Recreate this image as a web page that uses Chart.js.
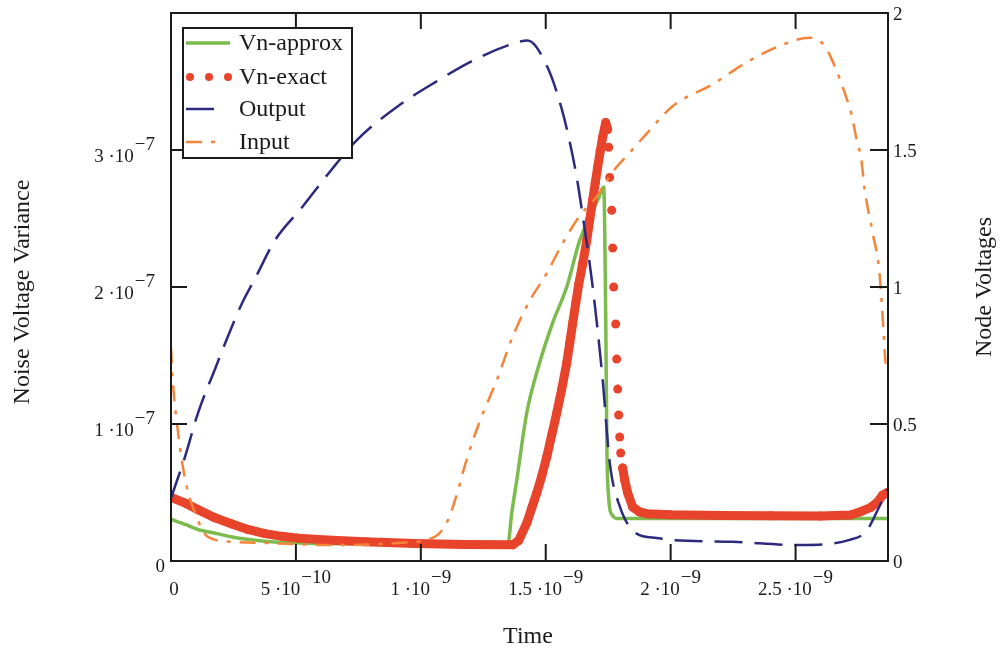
<!DOCTYPE html>
<html>
<head>
<meta charset="utf-8">
<script src="https://cdn.jsdelivr.net/npm/chart.js@4.4.0/dist/chart.umd.min.js"></script>
<style>
  html, body { margin: 0; padding: 0; background: #fff; }
  #wrap { width: 1007px; height: 654px; position: relative; }
</style>
</head>
<body>
<div id="wrap"><canvas id="noiseChart"></canvas></div>
<script>
// time in ns, variance in units of 1e-8 V^2, node voltages in V
const NS = 1e-9;
const VAR = 1e-8;

const approxTime = [0, 0.06, 0.108, 0.184, 0.244, 0.376, 0.512, 0.716, 1.0, 1.2, 1.348, 1.364, 1.384, 1.424, 1.476, 1.528, 1.584, 1.636, 1.676, 1.712, 1.732, 1.740, 1.745, 1.752, 1.764, 1.79, 2.2, 2.6, 2.87];
const approxVar  = [3.05, 2.65, 2.3, 2.0, 1.75, 1.45, 1.32, 1.25, 1.2, 1.18, 1.18, 3.5, 5.9, 10.8, 14.5, 17.4, 20.0, 23.4, 25.1, 26.5, 27.3, 18.0, 8.0, 4.6, 3.4, 3.1, 3.1, 3.1, 3.1];

const exactTime = [0, 0.06, 0.108, 0.176, 0.244, 0.308, 0.376, 0.444, 0.508, 0.644, 0.776, 0.976, 1.176, 1.368,
  1.392, 1.424, 1.444, 1.464, 1.484, 1.504, 1.524, 1.544, 1.564, 1.584, 1.596, 1.608, 1.62, 1.632, 1.648, 1.664,
  1.676, 1.688, 1.698, 1.708, 1.718, 1.728, 1.74, 1.748, 1.752, 1.756, 1.764, 1.768, 1.772, 1.78, 1.784, 1.788,
  1.792, 1.796, 1.8, 1.808, 1.816, 1.828, 1.848, 1.876, 1.904, 2.0, 2.2, 2.4, 2.6, 2.72, 2.76, 2.8, 2.828, 2.848, 2.868];
const exactVar = [4.65, 4.2, 3.75, 3.15, 2.7, 2.3, 2.0, 1.8, 1.67, 1.52, 1.4, 1.28, 1.2, 1.18,
  1.5, 2.77, 3.87, 4.96, 6.2, 7.59, 9.2, 10.8, 12.55, 14.45, 15.9, 17.37, 18.8, 20.2, 21.7, 23.4,
  24.9, 26.35, 27.6, 28.76, 29.9, 30.95, 32.0, 31.5, 30.2, 28.0, 25.6, 22.85, 20.0, 17.3, 14.74, 12.55,
  10.66, 9.05, 7.88, 6.79, 5.91, 4.96, 3.94, 3.58, 3.45, 3.38, 3.33, 3.3, 3.28, 3.35, 3.6, 3.9, 4.3, 4.8, 5.0];

const outputTime = [0, 0.056, 0.108, 0.176, 0.228, 0.284, 0.336, 0.416, 0.524, 0.644, 0.748, 0.908, 1.044, 1.216,
  1.376, 1.428, 1.508, 1.564, 1.596, 1.624, 1.648, 1.688, 1.728, 1.756, 1.796, 1.864, 1.944, 1.996, 2.248, 2.516,
  2.716, 2.784, 2.836, 2.868];
const outputVolt = [0.23, 0.38, 0.54, 0.70, 0.82, 0.94, 1.03, 1.17, 1.29, 1.43, 1.54, 1.66, 1.74, 1.83,
  1.89, 1.90, 1.80, 1.65, 1.53, 1.40, 1.26, 1.00, 0.66, 0.36, 0.20, 0.10, 0.084, 0.077, 0.07, 0.058,
  0.077, 0.11, 0.20, 0.26];

const inputTime = [0, 0.004, 0.028, 0.056, 0.096, 0.148, 0.244, 0.376, 0.644, 0.908, 1.056, 1.104, 1.14, 1.18,
  1.236, 1.304, 1.368, 1.436, 1.504, 1.568, 1.636, 1.704, 1.768, 1.836, 1.904, 2.008, 2.168, 2.304, 2.436,
  2.556, 2.616, 2.664, 2.696, 2.724, 2.744, 2.764, 2.776, 2.808, 2.836, 2.86];
const inputVolt = [0.78, 0.70, 0.47, 0.30, 0.175, 0.088, 0.07, 0.066, 0.058, 0.066, 0.088, 0.14, 0.23, 0.36,
  0.51, 0.66, 0.82, 0.95, 1.05, 1.16, 1.26, 1.33, 1.42, 1.49, 1.56, 1.66, 1.74, 1.82, 1.88,
  1.91, 1.88, 1.79, 1.71, 1.63, 1.54, 1.46, 1.36, 1.20, 1.05, 0.72];

// axis ticks: [value, mantissa, exponent]
const timeTicks = [[0, '0', ''], [5e-10, '5 ·10', '−10'], [1e-9, '1 ·10', '−9'], [1.5e-9, '1.5 ·10', '−9'], [2e-9, '2 ·10', '−9'], [2.5e-9, '2.5 ·10', '−9']];
const varTicks = [[0, '0', ''], [1e-7, '1 ·10', '−7'], [2e-7, '2 ·10', '−7'], [3e-7, '3 ·10', '−7']];
const voltTicks = [0, 0.5, 1, 1.5, 2];

const GREEN = '#7cbb4e', RED = '#e8432b', NAVY = '#2b2a7e', ORANGE = '#f5843a';
const INK = '#1a1a1a';
const SERIF = '"Liberation Serif", "Times New Roman", serif';

const zip = (ts, vs, k) => ts.map((t, i) => ({ x: t * NS, y: vs[i] * k }));

// ticks point inward on all four sides, labels with raised exponents
const frameAxes = {
  id: 'frameAxes',
  afterDatasetsDraw(chart) {
    const { ctx, chartArea: a } = chart;
    const sx = chart.scales.x, sl = chart.scales.yL, sr = chart.scales.yR;
    ctx.save();
    ctx.strokeStyle = INK;
    ctx.lineWidth = 2;
    ctx.strokeRect(a.left, a.top, a.right - a.left, a.bottom - a.top);
    ctx.beginPath();
    for (const [v] of timeTicks) {
      const px = sx.getPixelForValue(v);
      if (px <= a.left + 1) continue;
      ctx.moveTo(px, a.bottom); ctx.lineTo(px, a.bottom - 17);
      ctx.moveTo(px, a.top); ctx.lineTo(px, a.top + 16);
    }
    for (const [v] of varTicks) {
      const py = sl.getPixelForValue(v);
      if (py >= a.bottom - 1) continue;
      ctx.moveTo(a.left, py); ctx.lineTo(a.left + 16, py);
    }
    for (const v of voltTicks) {
      const py = sr.getPixelForValue(v);
      if (py >= a.bottom - 1 || py <= a.top + 1) continue;
      ctx.moveTo(a.right, py); ctx.lineTo(a.right - 18, py);
    }
    ctx.stroke();

    ctx.fillStyle = INK;
    ctx.font = '19px ' + SERIF;
    ctx.textBaseline = 'alphabetic';
    const label = (base, sup, x, y, align) => {
      const wb = ctx.measureText(base).width;
      const ws = sup ? ctx.measureText(sup).width + 1 : 0;
      let x0 = x;
      if (align === 'center') x0 = x - (wb + ws) / 2;
      else if (align === 'right') x0 = x - (wb + ws);
      ctx.textAlign = 'left';
      ctx.fillText(base, x0, y);
      if (sup) ctx.fillText(sup, x0 + wb + 1, y - 12);
    };
    for (const [v, b, s] of timeTicks) {
      label(b, s, sx.getPixelForValue(v) + (s ? 0 : 3), a.bottom + 34, 'center');
    }
    for (const [v, b, s] of varTicks) {
      const py = sl.getPixelForValue(v);
      if (s) label(b, s, a.left - 16, py + 12, 'right');
      else label(b, s, a.left - 6, py + 11, 'right');
    }
    for (const v of voltTicks) {
      label(String(v), '', a.right + 5, sr.getPixelForValue(v) + 7, 'left');
    }

    ctx.font = '24px ' + SERIF;
    ctx.textAlign = 'center';
    ctx.textBaseline = 'middle';
    ctx.fillText('Time', 528, 637);
    ctx.save();
    ctx.translate(23, 292);
    ctx.rotate(-Math.PI / 2);
    ctx.fillText('Noise Voltage Variance', 0, 0);
    ctx.restore();
    ctx.save();
    ctx.translate(985, 287);
    ctx.rotate(-Math.PI / 2);
    ctx.fillText('Node Voltages', 0, 0);
    ctx.restore();
    ctx.restore();
  }
};

// boxed legend in the upper left corner of the plot
const boxLegend = {
  id: 'boxLegend',
  afterDraw(chart) {
    const ctx = chart.ctx;
    const bx = 183, by = 28, bw = 169, bh = 130;
    ctx.save();
    ctx.fillStyle = '#fff';
    ctx.fillRect(bx, by, bw, bh);
    ctx.strokeStyle = INK;
    ctx.lineWidth = 2;
    ctx.strokeRect(bx, by, bw, bh);
    const rows = [43, 77, 109, 142];
    ctx.font = '24px ' + SERIF;
    ctx.textBaseline = 'middle';
    ctx.textAlign = 'left';
    chart.data.datasets.forEach((ds, i) => {
      const y = rows[i];
      ctx.strokeStyle = ds.borderColor;
      ctx.lineWidth = ds.legendWidth || ds.borderWidth;
      if (ds.legendDots) {
        ctx.fillStyle = ds.pointBackgroundColor;
        for (const dx of [190, 209, 228]) {
          ctx.beginPath();
          ctx.arc(dx, y, 4, 0, Math.PI * 2);
          ctx.fill();
        }
      } else {
        ctx.setLineDash(ds.borderDash || []);
        ctx.beginPath();
        ctx.moveTo(186, y);
        ctx.lineTo(ds.legendEnd, y);
        ctx.stroke();
        ctx.setLineDash([]);
      }
      ctx.fillStyle = INK;
      ctx.fillText(ds.label, 239, y + 1);
    });
    ctx.restore();
  }
};

new Chart(document.getElementById('noiseChart'), {
  type: 'line',
  data: {
    datasets: [
      {
        label: 'Vn-approx',
        data: zip(approxTime, approxVar, VAR),
        yAxisID: 'yL',
        borderColor: GREEN,
        borderWidth: 3.5,
        pointRadius: 0,
        cubicInterpolationMode: 'monotone',
        legendEnd: 230,
        order: 4,
      },
      {
        label: 'Vn-exact',
        data: zip(exactTime, exactVar, VAR),
        yAxisID: 'yL',
        borderColor: RED,
        borderWidth: 9,
        borderCapStyle: 'round',
        borderJoinStyle: 'round',
        pointRadius: 4.5,
        pointBorderWidth: 0,
        pointBackgroundColor: RED,
        tension: 0,
        legendDots: true,
        // samples are sparse where the variance collapses; only the dots show there
        segment: {
          borderColor: c => (c.p1.y - c.p0.y > 14 ? 'rgba(0,0,0,0)' : RED),
        },
        order: 3,
      },
      {
        label: 'Output',
        data: zip(outputTime, outputVolt, 1),
        yAxisID: 'yR',
        borderColor: NAVY,
        borderWidth: 2.5,
        borderDash: [28, 12],
        pointRadius: 0,
        cubicInterpolationMode: 'monotone',
        legendEnd: 223,
        order: 2,
      },
      {
        label: 'Input',
        data: zip(inputTime, inputVolt, 1),
        yAxisID: 'yR',
        borderColor: ORANGE,
        borderWidth: 2.5,
        borderDash: [16, 9, 4, 9],
        pointRadius: 0,
        cubicInterpolationMode: 'monotone',
        legendEnd: 223,
        order: 1,
      },
    ]
  },
  options: {
    responsive: true,
    maintainAspectRatio: false,
    animation: false,
    layout: { padding: { left: 171, right: 119, top: 13, bottom: 93 } },
    scales: {
      x: { type: 'linear', min: 0, max: 2.87e-9, display: false },
      yL: { type: 'linear', position: 'left', min: 0, max: 4e-7, display: false },
      yR: { type: 'linear', position: 'right', min: 0, max: 2, display: false },
    },
    plugins: {
      legend: { display: false },
      tooltip: { enabled: false },
    },
  },
  plugins: [frameAxes, boxLegend],
});
</script>
</body>
</html>
